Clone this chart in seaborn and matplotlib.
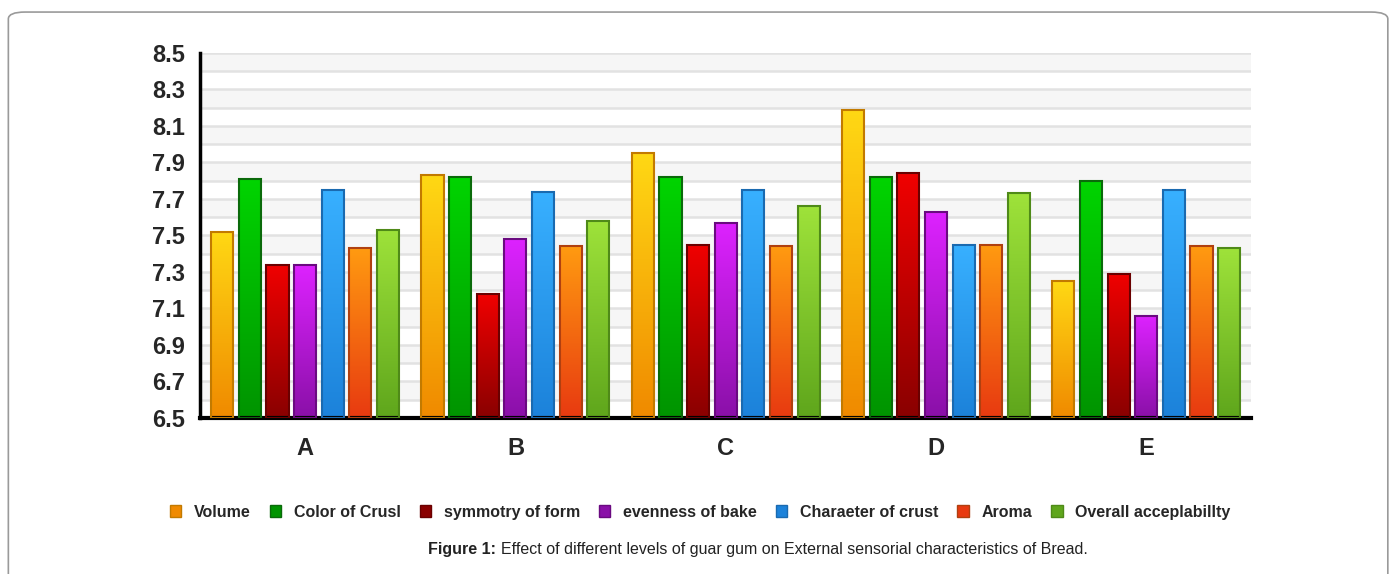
import numpy as np
import pandas as pd
import matplotlib
matplotlib.use("Agg")
import matplotlib.pyplot as plt
import seaborn as sns
from matplotlib.colors import LinearSegmentedColormap
from matplotlib.patches import FancyBboxPatch, Rectangle

# --- data ---
categories = ["A", "B", "C", "D", "E"]
series = ["Volume", "Color of Crusl", "symmotry of form", "evenness of bake",
          "Charaeter of crust", "Aroma", "Overall acceplabillty"]
volume = [7.52, 7.83, 7.95, 8.19, 7.25]
color_of_crust = [7.81, 7.82, 7.82, 7.82, 7.80]
symmetry = [7.34, 7.18, 7.45, 7.84, 7.29]
evenness = [7.34, 7.48, 7.57, 7.63, 7.06]
character = [7.75, 7.74, 7.75, 7.45, 7.75]
aroma = [7.43, 7.44, 7.44, 7.45, 7.44]
overall = [7.53, 7.58, 7.66, 7.73, 7.43]
y_ticks = [6.5, 6.7, 6.9, 7.1, 7.3, 7.5, 7.7, 7.9, 8.1, 8.3, 8.5]

values = [volume, color_of_crust, symmetry, evenness, character, aroma, overall]
rows = []
for name, vals in zip(series, values):
    for cat, v in zip(categories, vals):
        rows.append({"group": cat, "attr": name, "score": v})
df = pd.DataFrame(rows)

# gradient colours (top, bottom) and edge colours per series
tops = ["#ffd814", "#00d400", "#f00000", "#dd22ff", "#38b0ff", "#ff9a10", "#9ee23a"]
bottoms = ["#f08a00", "#009400", "#8a0000", "#8a10a8", "#1c82da", "#e83a10", "#5fa61c"]
edges = ["#c27a00", "#0a6a0a", "#6a0000", "#6a0a80", "#1a6ab0", "#b04010", "#4f8a18"]

sns.set_theme(style="white")
plt.rcParams["font.family"] = ["Liberation Sans", "DejaVu Sans"]

fig = plt.figure(figsize=(13.92, 5.74), dpi=100)
ax = fig.add_axes([0.1437, 0.2718, 0.7553, 0.636])

sns.barplot(data=df, x="group", y="score", hue="attr", order=categories,
            hue_order=series, palette=tops, width=0.92, gap=0.2,
            legend=False, ax=ax, zorder=2)

# paint vertical gradients inside bars
grad = np.linspace(0, 1, 100).reshape(-1, 1)
for s, cont in enumerate(ax.containers):
    cmap = LinearSegmentedColormap.from_list("g", [bottoms[s], tops[s]])
    for patch in cont.patches:
        x0, w = patch.get_x(), patch.get_width()
        top_y = patch.get_y() + patch.get_height()
        im = ax.imshow(grad, extent=[x0, x0 + w, 6.5, top_y], origin="lower",
                       cmap=cmap, aspect="auto", zorder=2.5)
        im.set_clip_path(Rectangle((x0, 6.5), w, top_y - 6.5, transform=ax.transData))
        ax.add_patch(Rectangle((x0, 6.5), w, top_y - 6.5, fill=False,
                               edgecolor=edges[s], lw=1.5, zorder=3))
        patch.set_visible(False)

# light banded background with grid lines
for i, y0 in enumerate(np.arange(6.5, 8.49, 0.1)):
    if i % 2 == 1:
        ax.axhspan(y0, y0 + 0.1, color="#f6f6f6", zorder=0, lw=0)
for y0 in np.arange(6.6, 8.51, 0.1):
    ax.axhline(y0, color="#e2e2e2", lw=1.8, zorder=0.5)

ax.set_xlim(-0.5, 4.5)
ax.set_ylim(6.5, 8.5)

# axes styling
for side in ["top", "right"]:
    ax.spines[side].set_visible(False)
ax.spines["left"].set_color("black")
ax.spines["left"].set_linewidth(2.5)
ax.spines["bottom"].set_color("black")
ax.spines["bottom"].set_linewidth(3)
ax.set_yticks(y_ticks)
ax.set_yticklabels([f"{t:.1f}" for t in y_ticks], fontsize=17, fontweight="bold")
ax.tick_params(axis="y", direction="out", length=7, width=2, color="black", pad=4)
ax.set_xticks(range(len(categories)))
ax.set_xticklabels(categories, fontsize=17, fontweight="bold")
ax.tick_params(axis="x", length=0, pad=14)
ax.set_xticks(np.arange(0.5, len(categories), 1.0), minor=True)
ax.tick_params(axis="x", which="minor", direction="out", length=8, width=2.5,
               color="black")
ax.set_xlabel("")
ax.set_ylabel("")

# legend below the plot
handles = [Rectangle((0, 0), 1, 1, facecolor=bottoms[k], edgecolor=edges[k])
           for k in range(len(series))]
fig.legend(handles, series, loc="center", bbox_to_anchor=(0.503, 0.108), ncol=7,
           frameon=False, handlelength=0.7, handleheight=0.7, handletextpad=0.8,
           columnspacing=1.2, prop={"weight": "bold", "size": 11.5})

# caption: bold label followed by plain text
lab = fig.text(0.3075, 0.042, "Figure 1: ", ha="left", va="center", fontsize=11.5,
               fontweight="bold", color="#222222")
fig.canvas.draw()
bb = lab.get_window_extent().transformed(fig.transFigure.inverted())
fig.text(bb.x1, 0.042, "Effect of different levels of guar gum on External sensorial "
         "characteristics of Bread.", ha="left", va="center", fontsize=11.5,
         color="#222222")

# rounded frame around the figure
fig.patches.append(FancyBboxPatch((0.006, -0.05), 0.991, 1.029,
                                  boxstyle="round,pad=0,rounding_size=0.012",
                                  transform=fig.transFigure, fill=False,
                                  edgecolor="#9a9a9a", lw=1.2))

fig.savefig("out.png", dpi=100)
